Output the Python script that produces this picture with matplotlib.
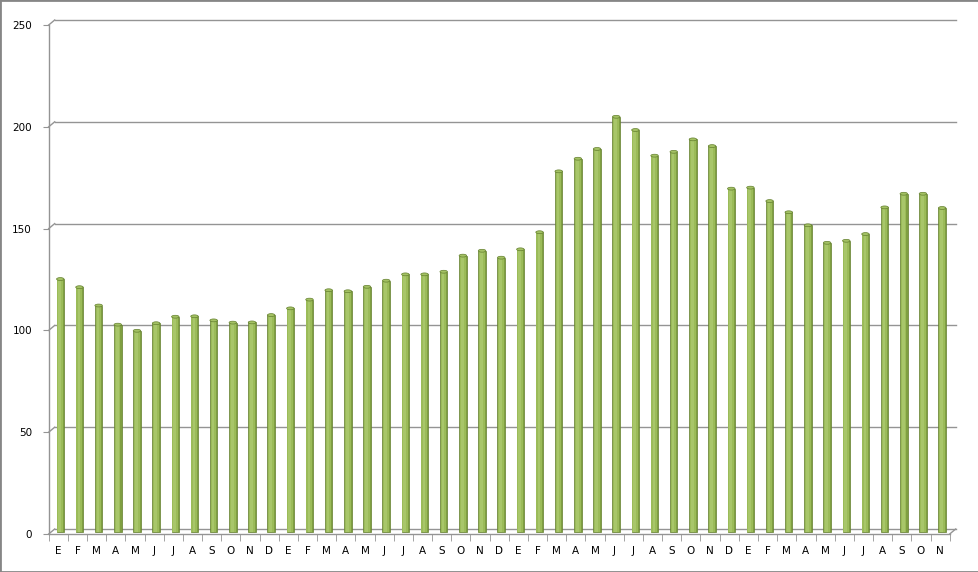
import numpy as np
import matplotlib
matplotlib.use("Agg")
import matplotlib.pyplot as plt
from matplotlib.patches import Ellipse, Rectangle
from matplotlib.transforms import ScaledTranslation

# month initials (Spanish), four years, last one ends in November
months = ["E", "F", "M", "A", "M", "J", "J", "A", "S", "O", "N", "D"]
labels = months * 3 + months[:11]

values = [124, 120, 111, 101.6, 98.6, 102.3, 105.5, 105.7, 103.7, 102.6, 102.7, 106.3,
          109.6, 113.9, 118.5, 118, 120.2, 123.2, 126.3, 126.3, 127.6, 135.5, 137.9, 134.5,
          138.6, 147, 176.9, 183.1, 187.9, 203.7, 197.2, 184.6, 186.5, 192.6, 189.3, 168.4,
          168.9, 162.3, 156.8, 150.4, 141.8, 142.8, 146.1, 159.2, 165.9, 165.9, 158.9]

yticks = [0, 50, 100, 150, 200, 250]

fig = plt.figure(figsize=(9.79, 5.72), dpi=100)
ax = fig.add_axes([48.7/979, 38/572, 901/979, 509/572])
n = len(values)
x = np.arange(n)
ax.set_xlim(-0.5, n - 0.5)
ax.set_ylim(0, 250)

grey = "#949494"
back = ax.transData + ScaledTranslation(6/100, 5/100, fig.dpi_scale_trans)
mid = ax.transData + ScaledTranslation(2/100, 2.5/100, fig.dpi_scale_trans)

# back wall gridlines + little diagonals to the front axis
for t in yticks:
    ax.plot([-0.5, n - 0.5], [t, t], color=grey, lw=1, transform=back, clip_on=False)
    p0 = ax.transData.transform((-0.5, t))
    p1 = back.transform((-0.5, t))
    fig.add_artist(plt.Line2D([p0[0]/979, p1[0]/979], [p0[1]/572, p1[1]/572],
                              color=grey, lw=1))
# right floor diagonal
p0 = ax.transData.transform((n - 0.5, 0))
p1 = back.transform((n - 0.5, 0))
fig.add_artist(plt.Line2D([p0[0]/979, p1[0]/979], [p0[1]/572, p1[1]/572], color=grey, lw=1))

# cylinder-ish bars: dark edge, lighter body, highlight
w = 0.39
b1 = ax.bar(x, values, width=w, color="#7f9f41", edgecolor="#64802e", lw=0.5, zorder=3)
b2 = ax.bar(x - 0.01, values, width=0.3, color="#9bbb59", lw=0, zorder=4)
b3 = ax.bar(x - 0.03, values, width=0.14, color="#a8c66a", lw=0, zorder=5)
for bars in (b1, b2, b3):
    for r in bars:
        r.set_transform(mid)
for xi, v in zip(x, values):
    ax.add_patch(Ellipse((xi, v), w, 1.4, facecolor="#a3c163", edgecolor="#64802e",
                         lw=0.5, transform=mid, zorder=6))

for s in ["top", "right"]:
    ax.spines[s].set_visible(False)
for s in ["left", "bottom"]:
    ax.spines[s].set_color(grey)
    ax.spines[s].set_linewidth(1)

ax.set_yticks(yticks)
ax.tick_params(axis="y", length=4, color=grey, labelsize=7.5, pad=8)
ax.set_xticks(x)
ax.set_xticklabels(labels)
ax.set_xticks(np.arange(-0.5, n), minor=True)
ax.tick_params(axis="x", which="major", length=0, labelsize=7.5, pad=9)
ax.tick_params(axis="x", which="minor", length=5, color=grey)

fig.add_artist(Rectangle((0, 0), 1, 1, transform=fig.transFigure, fill=False,
                         edgecolor="#868686", lw=2))

plt.savefig("out.png", dpi=100)
